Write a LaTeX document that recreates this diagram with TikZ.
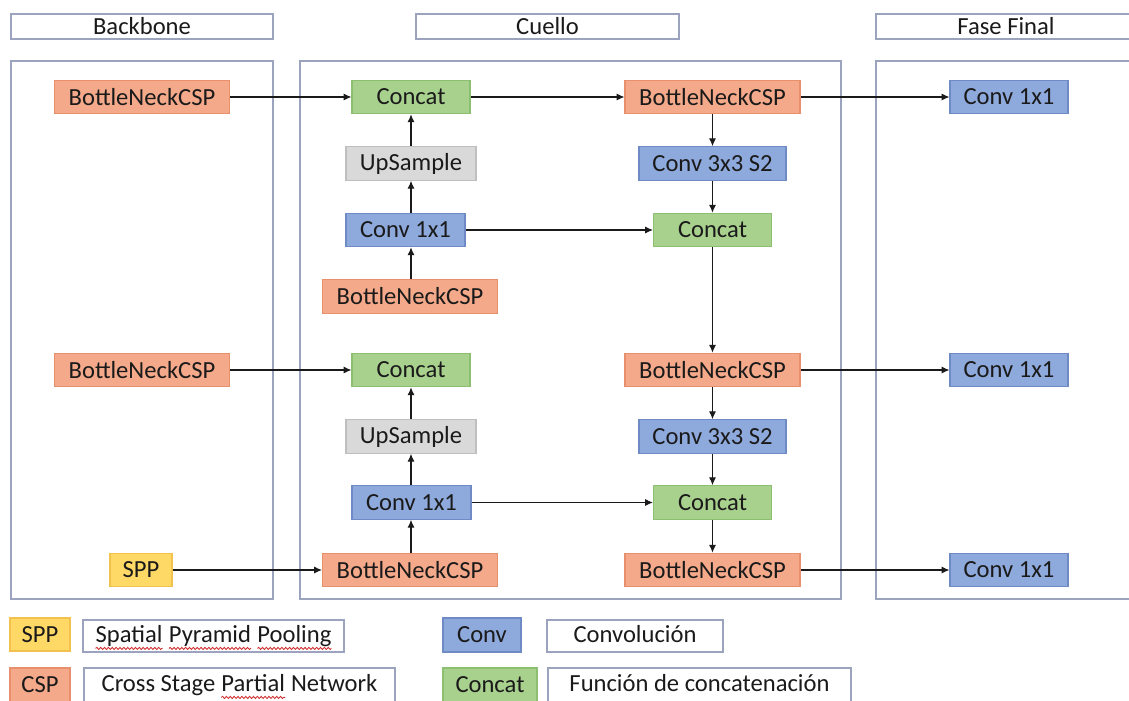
\documentclass[tikz,border=0pt]{standalone}
\usepackage{fontspec}
\setmainfont{Carlito}
\usetikzlibrary{arrows.meta,decorations.pathmorphing}

\definecolor{ink}{HTML}{1A1A1A}
\definecolor{framec}{HTML}{9BA3BF}
\definecolor{orfill}{HTML}{F4A98A}
\definecolor{ordraw}{HTML}{E8906E}
\definecolor{grfill}{HTML}{A9D18E}
\definecolor{grdraw}{HTML}{8CBF70}
\definecolor{blfill}{HTML}{8EA9DB}
\definecolor{bldraw}{HTML}{6F8BC6}
\definecolor{gyfill}{HTML}{D9D9D9}
\definecolor{gydraw}{HTML}{BFBFBF}
\definecolor{ylfill}{HTML}{FFD966}
\definecolor{yldraw}{HTML}{F2C14E}
\definecolor{wavy}{HTML}{D03030}

% word marked with a red wavy underline
\newcommand\sperr[1]{\tikz[baseline=(sw.base)]{\node[inner sep=0pt,outer sep=0pt,draw=none,fill=none,minimum width=0pt,minimum height=0pt](sw){#1};\draw[wavy,line width=0.5pt,decorate,decoration={snake,amplitude=0.6pt,segment length=2.2pt}] ([yshift=-3.4pt]sw.base west)--([yshift=-3.4pt]sw.base east);}}

\begin{document}
\begin{tikzpicture}[x=0.02cm,y=-0.02cm,
  font=\fontsize{14}{16}\selectfont,
  frame/.style={draw=framec,line width=0.8pt},
  hdr/.style={frame,rectangle,minimum height=0.5cm,inner sep=0pt,text=ink},
  lbl/.style={frame,rectangle,minimum height=0.64cm,inner sep=0pt,text=ink,text depth=0.5ex},
  blk/.style={rectangle,minimum height=0.67cm,inner sep=0pt,line width=0.6pt,text=ink},
  csp/.style={blk,fill=orfill,draw=ordraw},
  cat/.style={blk,fill=grfill,draw=grdraw},
  cnv/.style={blk,fill=blfill,draw=bldraw},
  ups/.style={blk,fill=gyfill,draw=gydraw},
  spp/.style={blk,fill=ylfill,draw=yldraw},
  wBN/.style={minimum width=3.5cm},
  wCat/.style={minimum width=2.36cm},
  wUp/.style={minimum width=2.6cm},
  wC1/.style={minimum width=2.38cm},
  wC3/.style={minimum width=2.94cm},
  arr/.style={draw=ink,line width=0.6pt,-{Latex[length=4.5pt,width=4pt]}}]

\useasboundingbox (0,0) rectangle (1129,700);
\clip (0,0) rectangle (1129,700);

% section headers
\node[hdr,minimum width=5.24cm] (hb) at (142,26.5) {Backbone};
\node[hdr,minimum width=5.26cm] (hc) at (547.5,26.5) {Cuello};
\node[hdr,minimum width=5.2cm]  (hf) at (1006,26.5) {Fase Final};

% section panels
\draw[frame] (11,61) rectangle (273,599);
\draw[frame] (300,61) rectangle (841,599);
\draw[frame] (876,61) rectangle (1136,599);

% backbone outputs
\node[csp,wBN] (b1) at (142,97) {BottleNeckCSP};
\node[csp,wBN] (b2) at (142,370) {BottleNeckCSP};
\node[spp,minimum width=1.24cm] (sp) at (141,570) {SPP};

% neck, left column
\node[cat,wCat] (ca1) at (411,97) {Concat};
\node[ups,wUp]  (up1) at (411,163.5) {UpSample};
\node[cnv,wC1]  (cv1) at (405.5,230) {Conv 1x1};
\node[csp,wBN]  (n1)  at (410,296.5) {BottleNeckCSP};
\node[cat,wCat] (ca3) at (411,370) {Concat};
\node[ups,wUp]  (up2) at (411,436.5) {UpSample};
\node[cnv,wC1]  (cv2) at (411.5,502.5) {Conv 1x1};
\node[csp,wBN]  (n2)  at (410,570) {BottleNeckCSP};

% neck, right column
\node[csp,wBN]  (r1) at (712.5,97) {BottleNeckCSP};
\node[cnv,wC3]  (r2) at (712.5,163.5) {Conv 3x3 S2};
\node[cat,wCat] (r3) at (712.5,230) {Concat};
\node[csp,wBN]  (r4) at (712.5,370) {BottleNeckCSP};
\node[cnv,wC3]  (r5) at (712.5,436.5) {Conv 3x3 S2};
\node[cat,wCat] (r6) at (712.5,502.5) {Concat};
\node[csp,wBN]  (r7) at (712.5,570) {BottleNeckCSP};

% heads
\node[cnv,wCat] (f1) at (1009,97) {Conv 1x1};
\node[cnv,wCat] (f2) at (1009,370) {Conv 1x1};
\node[cnv,wCat] (f3) at (1009,570) {Conv 1x1};

% connectors
\draw[arr] (b1) -- (ca1);
\draw[arr] (ca1) -- (r1);
\draw[arr] (r1) -- (f1);
\draw[arr] (r1) -- (r2);
\draw[arr] (r2) -- (r3);
\draw[arr] (r3) -- (r4);
\draw[arr] (up1) -- (ca1);
\draw[arr] (cv1.north -| up1.south) -- (up1.south);
\draw[arr] (n1.north -| up1.south) -- (cv1.south -| up1.south);
\draw[arr] (cv1) -- (r3);
\draw[arr] (b2) -- (ca3);
\draw[arr] (up2) -- (ca3);
\draw[arr] (cv2.north -| up2.south) -- (up2.south);
\draw[arr] (n2.north -| up2.south) -- (cv2.south -| up2.south);
\draw[arr] (cv2) -- (r6);
\draw[arr] (sp) -- (n2);
\draw[arr] (r4) -- (f2);
\draw[arr] (r4) -- (r5);
\draw[arr] (r5) -- (r6);
\draw[arr] (r6) -- (r7);
\draw[arr] (r7) -- (f3);

% legend
\node[spp,minimum width=1.2cm,minimum height=0.66cm] (kspp) at (40,634.5) {SPP};
\node[lbl,minimum width=5.22cm] (tspp) at (213.5,636) {\sperr{Spatial} \sperr{Pyramid} \sperr{Pooling}};
\node[csp,minimum width=1.2cm,minimum height=0.68cm] (kcsp) at (40,685) {CSP};
\node[lbl,minimum width=6.22cm,minimum height=0.68cm] (tcsp) at (239.5,685) {Cross Stage \sperr{Partial} Network};
\node[cnv,minimum width=1.56cm,minimum height=0.68cm] (kcnv) at (482,635) {Conv};
\node[lbl,minimum width=3.52cm] (tcnv) at (635,636) {Convolución};
\node[cat,minimum width=1.88cm,minimum height=0.68cm] (kcat) at (490,685) {Concat};
\node[lbl,minimum width=6.06cm,minimum height=0.68cm] (tcat) at (699.5,685) {Función de concatenación};
\end{tikzpicture}
\end{document}
